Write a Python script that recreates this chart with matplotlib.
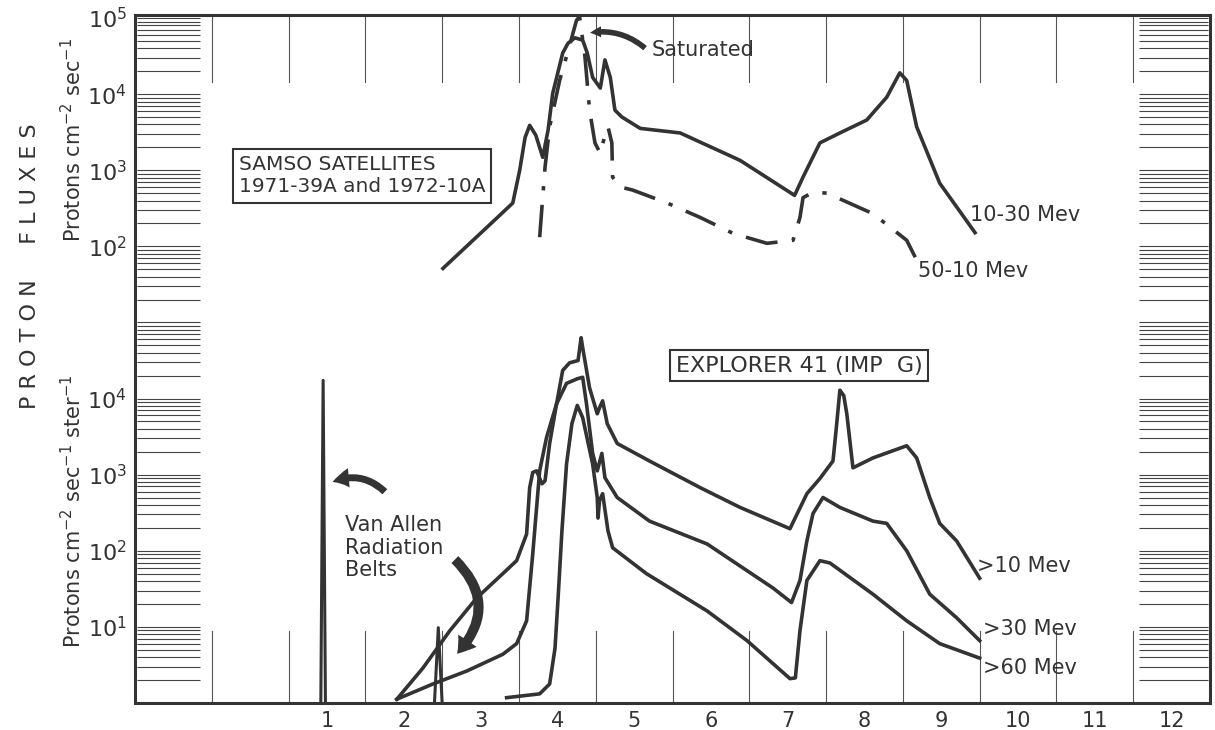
import numpy as np
import matplotlib.pyplot as plt
from matplotlib.patches import FancyArrowPatch

plt.rcParams['font.family'] = ['DejaVu Sans']
plt.rcParams['mathtext.default'] = 'regular'

INK = "#333333"

# ---- upper panel (SAMSO satellites), flux in protons cm^-2 sec^-1, stored as log10 ----
samso_10_30_x = [2.51, 3.21, 3.42, 3.51, 3.58, 3.64, 3.72, 3.81, 3.88, 3.94, 4.07, 4.14, 4.23, 4.33,
                 4.39, 4.46, 4.56, 4.62, 4.69, 4.75, 4.84, 5.08, 5.60, 6.38, 7.09, 7.20, 7.42, 7.68,
                 8.03, 8.29, 8.46, 8.55, 8.68, 8.98, 9.44]
samso_10_30_log = [1.71, 2.37, 2.57, 3.00, 3.43, 3.59, 3.46, 3.17, 3.53, 4.01, 4.54, 4.67, 4.74, 4.71,
                   4.54, 4.22, 4.08, 4.45, 4.22, 3.79, 3.70, 3.55, 3.49, 3.13, 2.67, 2.91, 3.36, 3.49,
                   3.66, 3.96, 4.28, 4.18, 3.57, 2.83, 2.18]

samso_50_10_x = [3.77, 3.84, 3.90, 4.03, 4.16, 4.25, 4.29, 4.36, 4.42, 4.49, 4.56, 4.62, 4.66, 4.71,
                 4.72, 4.82, 4.98, 5.43, 5.86, 6.29, 6.73, 7.07, 7.16, 7.20, 7.33, 7.51, 8.11, 8.55, 8.68]
samso_50_10_log = [2.12, 3.04, 3.57, 4.18, 4.64, 4.97, 5.02, 4.49, 3.79, 3.36, 3.22, 3.46, 3.57, 3.36,
                   2.91, 2.78, 2.74, 2.57, 2.38, 2.17, 2.04, 2.08, 2.38, 2.64, 2.71, 2.70, 2.43, 2.08, 1.82]

# ---- lower panel (Explorer 41), flux in protons cm^-2 sec^-1 ster^-1, stored as log10 ----
exp_gt10_x = [1.91, 2.25, 2.60, 2.95, 3.29, 3.47, 3.60, 3.64, 3.68, 3.73, 3.80, 3.84, 3.90, 3.99,
              4.07, 4.16, 4.27, 4.31, 4.33, 4.42, 4.52, 4.55, 4.59, 4.65, 4.78, 5.20, 5.86, 6.38,
              7.03, 7.25, 7.42, 7.59, 7.63, 7.68, 7.73, 7.77, 7.85, 8.11, 8.55, 8.68, 8.85, 8.98,
              9.20, 9.50]
exp_gt10_log = [0.05, 0.46, 0.95, 1.38, 1.70, 1.87, 2.22, 2.83, 3.03, 3.05, 2.88, 2.92, 3.41, 3.93,
                4.37, 4.47, 4.50, 4.80, 4.67, 4.14, 3.80, 3.88, 3.97, 3.67, 3.41, 3.18, 2.83, 2.57,
                2.29, 2.75, 2.95, 3.18, 3.58, 4.11, 4.04, 3.80, 3.09, 3.22, 3.38, 3.22, 2.70, 2.36,
                2.13, 1.64]

exp_gt30_x = [1.91, 2.38, 2.82, 3.29, 3.47, 3.60, 3.68, 3.77, 3.86, 3.99, 4.12, 4.26, 4.33, 4.38,
              4.46, 4.52, 4.58, 4.62, 4.78, 5.20, 5.95, 6.81, 7.05, 7.16, 7.25, 7.33, 7.46, 7.68,
              8.11, 8.29, 8.55, 8.85, 9.20, 9.50]
exp_gt30_log = [0.05, 0.25, 0.42, 0.64, 0.78, 1.08, 1.96, 3.05, 3.49, 3.93, 4.20, 4.26, 4.28, 3.93,
                3.28, 3.05, 3.28, 2.96, 2.70, 2.39, 2.09, 1.51, 1.32, 1.61, 2.13, 2.49, 2.70, 2.57,
                2.39, 2.36, 2.00, 1.43, 1.12, 0.82]

exp_gt60_x = [3.34, 3.77, 3.90, 3.97, 4.01, 4.06, 4.12, 4.19, 4.26, 4.33, 4.46, 4.52, 4.53, 4.55,
              4.59, 4.66, 4.72, 5.16, 5.95, 6.47, 7.03, 7.10, 7.16, 7.25, 7.42, 7.55, 8.11, 8.55,
              8.98, 9.50]
exp_gt60_log = [0.07, 0.12, 0.25, 0.72, 1.38, 2.26, 3.14, 3.67, 3.91, 3.75, 3.14, 2.70, 2.43, 2.66,
                2.75, 2.26, 2.04, 1.70, 1.21, 0.82, 0.32, 0.33, 0.95, 1.61, 1.87, 1.84, 1.43, 1.08,
                0.78, 0.59]

# Van Allen belt spikes (inner at ~1, small one at ~2.45)
spike1_x = [0.92, 0.95, 0.98]
spike1_log = [0.0, 4.24, 0.0]
spike2_x = [2.40, 2.45, 2.50]
spike2_log = [0.0, 0.99, 0.0]

x_ticks = list(range(1, 13))
grid_x = [v + 0.5 for v in range(-1, 12)]
low_ticks = [1, 2, 3, 4]
high_ticks = [2, 3, 4, 5]

fig = plt.figure(figsize=(12.15, 7.30), dpi=100)
pos = [135 / 1215, 27 / 730, 1075 / 1215, 688 / 730]
ax = fig.add_axes(pos)
ax.set_yscale("log")
ax.set_xlim(-1.5, 12.5)
ax.set_ylim(1, 10 ** 9.04)

# log-paper strips at both sides
band_y = [m * 10.0 ** n for n in range(0, 9) for m in range(1, 10)] + [1e9]
ax.hlines(band_y, -1.47, -0.65, color="#444444", lw=0.8)
ax.hlines(band_y, 11.58, 12.47, color="#444444", lw=0.8)

# short vertical grid marks from top and bottom
for gx in grid_x:
    ax.axvline(gx, ymin=0.0, ymax=0.105, color="#555555", lw=0.8)
    ax.axvline(gx, ymin=0.903, ymax=1.0, color="#555555", lw=0.8)

lw = 2.6
ax.plot(exp_gt10_x, 10 ** np.array(exp_gt10_log), color=INK, lw=lw, solid_joinstyle="round")
ax.plot(exp_gt30_x, 10 ** np.array(exp_gt30_log), color=INK, lw=lw, solid_joinstyle="round")
ax.plot(exp_gt60_x, 10 ** np.array(exp_gt60_log), color=INK, lw=lw, solid_joinstyle="round")
ax.plot(spike1_x, 10 ** np.array(spike1_log), color=INK, lw=2.2)
ax.plot(spike2_x, 10 ** np.array(spike2_log), color=INK, lw=2.2)

ax.set_xticks(x_ticks)
ax.set_xticklabels([str(v) for v in x_ticks], fontsize=15, color=INK)
ax.set_yticks([10.0 ** k for k in low_ticks])
ax.set_yticklabels([f"$10^{{{k}}}$" for k in low_ticks], fontsize=16, color=INK)
ax.minorticks_off()
ax.tick_params(length=0, pad=6)
for s in ax.spines.values():
    s.set_color(INK)
    s.set_linewidth(2.2)

# upper panel shares the same frame, shifted by four decades
ax2 = fig.add_axes(pos, sharex=ax)
ax2.set_yscale("log")
ax2.set_ylim(1e-4, 10 ** 5.04)
ax2.patch.set_visible(False)
for s in ax2.spines.values():
    s.set_visible(False)
ax2.plot(samso_10_30_x, 10 ** np.array(samso_10_30_log), color=INK, lw=lw, solid_joinstyle="round")
ax2.plot(samso_50_10_x, 10 ** np.array(samso_50_10_log), color=INK, lw=lw,
         linestyle=(0, (9, 4, 1.2, 4)))
ax2.set_yticks([10.0 ** k for k in high_ticks])
ax2.set_yticklabels([f"$10^{{{k}}}$" for k in high_ticks], fontsize=16, color=INK)
ax2.minorticks_off()
ax2.tick_params(axis="y", length=0, pad=6)
ax2.tick_params(axis="x", bottom=False, labelbottom=False)

# annotations, upper panel
tkw = dict(color=INK, fontsize=15)
ax2.text(-0.15, 10 ** 2.93, "SAMSO SATELLITES\n1971-39A and 1972-10A", va="center", ha="left",
         linespacing=1.25, color=INK, fontsize=14.5,
         bbox=dict(boxstyle="square,pad=0.3", fc="white", ec=INK, lw=1.5))
ax2.text(5.23, 10 ** 4.58, "Saturated", va="center", ha="left", **tkw)
ax2.text(9.37, 10 ** 2.41, "10-30 Mev", va="center", ha="left", **tkw)
ax2.text(8.70, 10 ** 1.68, "50-10 Mev", va="center", ha="left", **tkw)
ax2.add_patch(FancyArrowPatch((5.17, 10 ** 4.58), (4.39, 10 ** 4.80),
                              connectionstyle="arc3,rad=0.25",
                              arrowstyle="simple,head_length=8,head_width=8,tail_width=4",
                              color=INK, lw=0))

# annotations, lower panel
ax.text(5.54, 10 ** 4.43, "EXPLORER 41 (IMP  G)", va="center", ha="left", color=INK, fontsize=16,
        bbox=dict(boxstyle="square,pad=0.25", fc="white", ec=INK, lw=1.5))
ax.text(1.23, 10 ** 2.04, "Van Allen\nRadiation\nBelts", va="center", ha="left",
        linespacing=1.15, **tkw)
ax.text(9.46, 10 ** 1.80, ">10 Mev", va="center", ha="left", **tkw)
ax.text(9.54, 10 ** 0.97, ">30 Mev", va="center", ha="left", **tkw)
ax.text(9.54, 10 ** 0.46, ">60 Mev", va="center", ha="left", **tkw)
ax.add_patch(FancyArrowPatch((1.78, 10 ** 2.75), (1.04, 10 ** 2.89),
                             connectionstyle="arc3,rad=0.35",
                             arrowstyle="simple,head_length=12,head_width=14,tail_width=5",
                             color=INK, lw=0))
ax.add_patch(FancyArrowPatch((2.64, 10 ** 1.91), (2.67, 10 ** 0.62),
                             connectionstyle="arc3,rad=-0.5",
                             arrowstyle="simple,head_length=12,head_width=16,tail_width=7",
                             color=INK, lw=0))

# axis titles
fig.text(0.025, 0.636, "P R O T O N     F L U X E S", rotation=90, va="center", ha="center",
         fontsize=16, color=INK)
fig.text(0.060, 0.808, "Protons cm$^{-2}$ sec$^{-1}$", rotation=90, va="center", ha="center",
         fontsize=15, color=INK)
fig.text(0.060, 0.299, "Protons cm$^{-2}$ sec$^{-1}$ ster$^{-1}$", rotation=90, va="center",
         ha="center", fontsize=15, color=INK)

fig.savefig("out.png", dpi=100)
